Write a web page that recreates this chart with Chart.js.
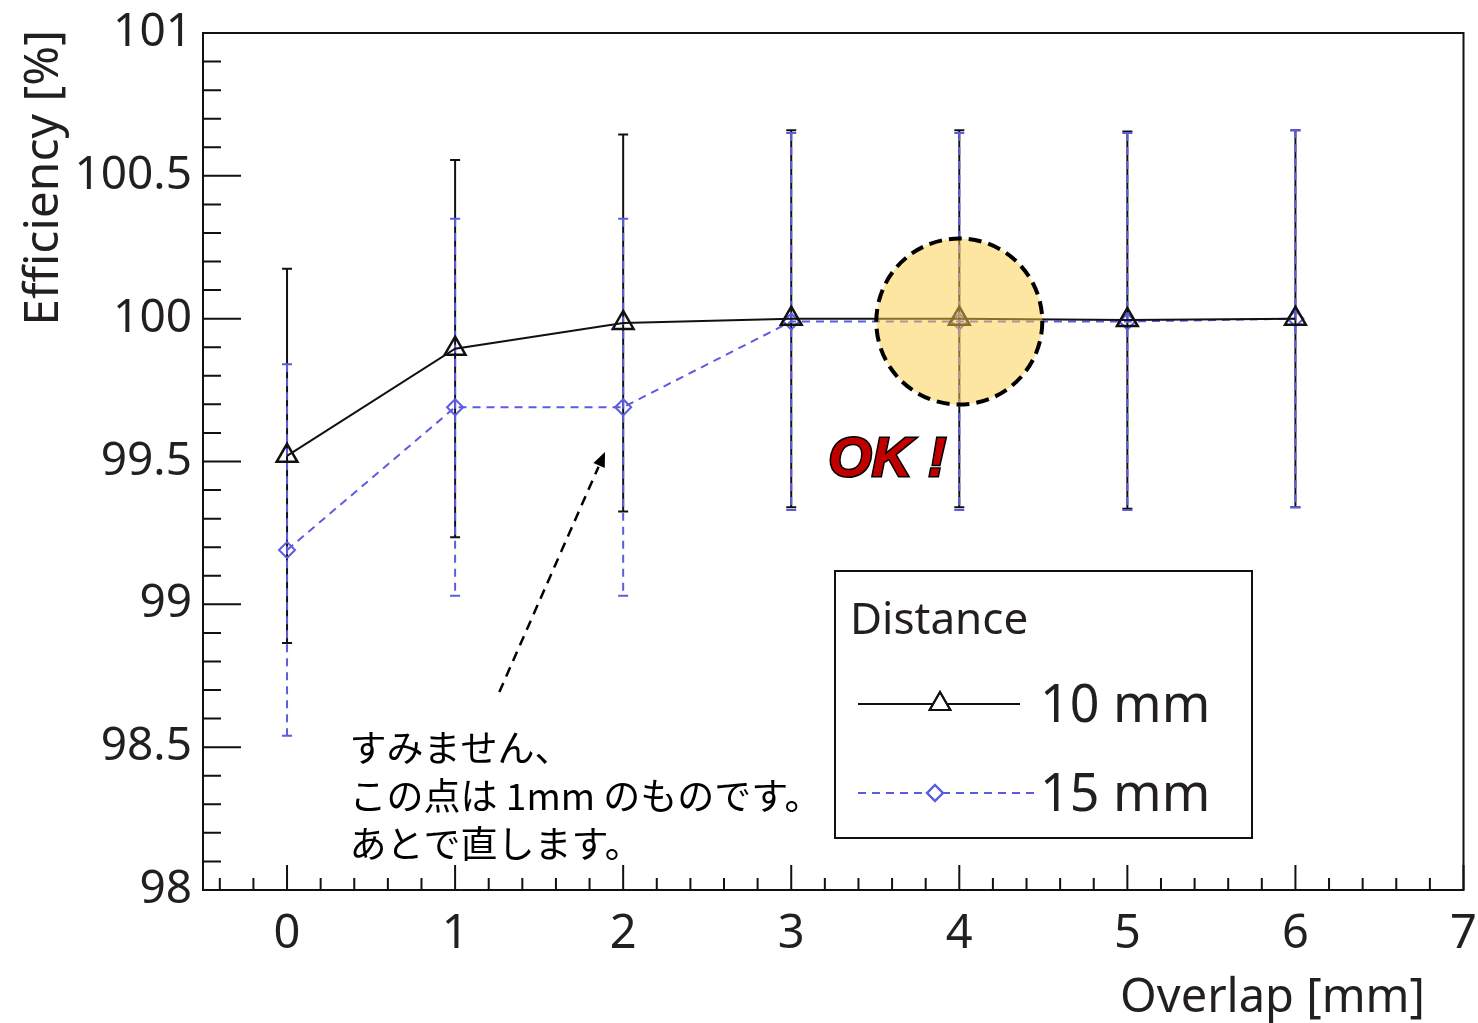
<!DOCTYPE html>
<html>
<head>
<meta charset="utf-8">
<script src="https://cdn.jsdelivr.net/npm/chart.js@4"></script>
<style>
  html, body { margin: 0; padding: 0; background: #fff; }
  #wrap { width: 1478px; height: 1023px; }
</style>
</head>
<body>
<div id="wrap"><canvas id="effChart" width="1478" height="1023"></canvas></div>
<script>
// --- data ---
const overlap = [0, 1, 2, 3, 4, 5, 6];
const eff10 = [99.52, 99.895, 99.985, 100.0, 100.0, 99.995, 100.0];
const err10 = [0.655, 0.66, 0.66, 0.66, 0.66, 0.66, 0.66];
const eff15 = [99.19, 99.69, 99.69, 99.99, 99.99, 99.99, 100.0];
const err15 = [0.65, 0.66, 0.66, 0.66, 0.66, 0.66, 0.66];
const xTicks = [0, 1, 2, 3, 4, 5, 6, 7];
const yTicks = [98, 98.5, 99, 99.5, 100, 100.5, 101];
const legendTitle = 'Distance';
const seriesNames = ['10 mm', '15 mm'];
const noteLines = ['すみません、', 'この点は 1mm のものです。', 'あとで直します。'];

const TEXT = '#231f20';
const BLUE = '#5c5ce0';
const FONT = '"Noto Sans", "Open Sans", sans-serif';

function toPoints(xs, ys) {
    return xs.map((x, i) => ({ x: x, y: ys[i] }));
}

// error bars, frame with ROOT style ticks, annotations and legend
const decor = {
    id: 'decor',
    beforeDatasetsDraw(chart) {
        const { ctx, scales: { x, y } } = chart;
        const bars = (vals, errs, color, dash) => {
            ctx.save();
            ctx.strokeStyle = color;
            ctx.lineWidth = 2;
            ctx.setLineDash(dash);
            overlap.forEach((ov, i) => {
                const px = x.getPixelForValue(ov);
                const top = y.getPixelForValue(vals[i] + errs[i]);
                const bot = y.getPixelForValue(vals[i] - errs[i]);
                ctx.beginPath();
                ctx.moveTo(px, top); ctx.lineTo(px, bot);
                ctx.stroke();
                ctx.setLineDash([]);
                ctx.beginPath();
                ctx.moveTo(px - 5, top); ctx.lineTo(px + 5, top);
                ctx.moveTo(px - 5, bot); ctx.lineTo(px + 5, bot);
                ctx.stroke();
                ctx.setLineDash(dash);
            });
            ctx.restore();
        };
        bars(eff10, err10, '#111', []);
        bars(eff15, err15, BLUE, [8, 6]);
    },
    afterDatasetsDraw(chart) {
        const { ctx, chartArea: a, scales: { x, y } } = chart;
        ctx.save();

        // frame
        ctx.strokeStyle = '#111';
        ctx.lineWidth = 2;
        ctx.strokeRect(a.left, a.top, a.right - a.left, a.bottom - a.top);

        // x ticks (major 1, minor 0.2)
        ctx.beginPath();
        for (let k = -2; k <= 35; k++) {
            const v = k / 5;
            if (v < x.min || v > x.max) continue;
            const px = x.getPixelForValue(v);
            const len = (k % 5 === 0) ? 25 : 12;
            ctx.moveTo(px, a.bottom); ctx.lineTo(px, a.bottom - len);
        }
        // y ticks (major 0.5, minor 0.1)
        for (let k = 0; k <= 30; k++) {
            const v = 98 + k / 10;
            const py = y.getPixelForValue(v);
            const len = (k % 5 === 0) ? 38 : 18;
            ctx.moveTo(a.left, py); ctx.lineTo(a.left + len, py);
        }
        ctx.stroke();

        // axis titles
        ctx.fillStyle = TEXT;
        ctx.font = '47px ' + FONT;
        ctx.textAlign = 'right';
        ctx.textBaseline = 'alphabetic';
        ctx.fillText('Overlap [mm]', 1425, 1012);
        ctx.save();
        ctx.translate(58, 30);
        ctx.rotate(-Math.PI / 2);
        ctx.font = '48px ' + FONT;
        ctx.fillText('Efficiency [%]', 0, 0);
        ctx.restore();

        // highlighted circle around overlap 4
        const cx = x.getPixelForValue(4), cy = y.getPixelForValue(99.99);
        ctx.beginPath();
        ctx.arc(cx, cy, 83, 0, Math.PI * 2);
        ctx.fillStyle = 'rgba(252, 205, 70, 0.5)';
        ctx.fill();
        ctx.setLineDash([13, 7]);
        ctx.lineWidth = 4;
        ctx.strokeStyle = '#000';
        ctx.stroke();
        ctx.setLineDash([]);

        // OK !
        ctx.font = 'bold italic 56px "Liberation Sans", sans-serif';
        ctx.textAlign = 'left';
        ctx.lineWidth = 3;
        ctx.strokeStyle = '#000';
        ctx.fillStyle = '#c00000';
        const okX = x.getPixelForValue(3.22), okY = y.getPixelForValue(99.45);
        ctx.strokeText('OK !', okX, okY);
        ctx.fillText('OK !', okX, okY);

        // dashed arrow
        const ax0 = x.getPixelForValue(1.263), ay0 = y.getPixelForValue(98.693);
        const ax1 = x.getPixelForValue(1.892), ay1 = y.getPixelForValue(99.533);
        const ang = Math.atan2(ay1 - ay0, ax1 - ax0);
        const hl = 16;
        ctx.beginPath();
        ctx.setLineDash([10, 7]);
        ctx.lineWidth = 2.5;
        ctx.moveTo(ax0, ay0);
        ctx.lineTo(ax1 - Math.cos(ang) * hl, ay1 - Math.sin(ang) * hl);
        ctx.stroke();
        ctx.setLineDash([]);
        ctx.beginPath();
        ctx.moveTo(ax1, ay1);
        ctx.lineTo(ax1 - Math.cos(ang - 0.4) * hl, ay1 - Math.sin(ang - 0.4) * hl);
        ctx.lineTo(ax1 - Math.cos(ang + 0.4) * hl, ay1 - Math.sin(ang + 0.4) * hl);
        ctx.closePath();
        ctx.fillStyle = '#000';
        ctx.fill();

        // note
        ctx.fillStyle = '#000';
        ctx.font = '37px "Noto Sans CJK JP", sans-serif';
        const nx = x.getPixelForValue(0.372), ny = y.getPixelForValue(98.448);
        noteLines.forEach((t, i) => ctx.fillText(t, nx, ny + i * 48));

        // legend box
        ctx.lineWidth = 2;
        ctx.strokeStyle = '#111';
        ctx.fillStyle = '#fff';
        ctx.fillRect(835, 571, 417, 267);
        ctx.strokeRect(835, 571, 417, 267);
        ctx.fillStyle = TEXT;
        ctx.font = '44px ' + FONT;
        ctx.fillText(legendTitle, 850, 634);
        const ds = chart.data.datasets;
        const rows = [{ y: 704, x1: 1020, mx: 940 }, { y: 793, x1: 1035, mx: 935 }];
        rows.forEach((r, i) => {
            const d = ds[i];
            ctx.beginPath();
            ctx.setLineDash(d.borderDash || []);
            ctx.strokeStyle = d.borderColor;
            ctx.lineWidth = 2;
            ctx.moveTo(858, r.y); ctx.lineTo(r.x1, r.y);
            ctx.stroke();
            ctx.setLineDash([]);
            ctx.fillStyle = '#fff';
            Chart.helpers.drawPoint(ctx, {
                pointStyle: d.pointStyle, radius: d.pointRadius,
                borderWidth: d.pointBorderWidth, rotation: 0
            }, r.mx, r.y);
            ctx.strokeStyle = d.borderColor;
            ctx.stroke();
            ctx.fillStyle = TEXT;
            ctx.font = '52px ' + FONT;
            ctx.fillText(seriesNames[i], 1040, r.y + 18);
        });

        ctx.restore();
    }
};

new Chart(document.getElementById('effChart'), {
    type: 'line',
    data: {
        datasets: [{
            label: seriesNames[0],
            data: toPoints(overlap, eff10),
            borderColor: '#111',
            borderWidth: 2,
            pointStyle: 'triangle',
            pointRadius: 12,
            pointBorderWidth: 2.5,
            pointBackgroundColor: 'rgba(0,0,0,0)',
            pointBorderColor: '#111',
            tension: 0
        }, {
            label: seriesNames[1],
            data: toPoints(overlap, eff15),
            borderColor: BLUE,
            borderWidth: 2,
            borderDash: [8, 6],
            pointStyle: 'rectRot',
            pointRadius: 8,
            pointBorderWidth: 2,
            pointBackgroundColor: 'rgba(0,0,0,0)',
            pointBorderColor: BLUE,
            tension: 0
        }]
    },
    options: {
        responsive: false,
        animation: false,
        layout: { padding: { top: 33, right: 8, left: 0, bottom: 0 } },
        plugins: { legend: { display: false }, tooltip: { enabled: false } },
        scales: {
            x: {
                type: 'linear',
                min: -0.5,
                max: 7,
                afterBuildTicks: s => { s.ticks = xTicks.map(v => ({ value: v })); },
                afterFit: s => { s.height = 133; s.paddingLeft = 0; s.paddingRight = 0; },
                grid: { display: false, drawTicks: false },
                border: { display: false },
                ticks: { color: TEXT, font: { family: FONT, size: 47 }, padding: 16, maxRotation: 0, autoSkip: false }
            },
            y: {
                min: 98,
                max: 101,
                afterBuildTicks: s => { s.ticks = yTicks.map(v => ({ value: v })); },
                afterFit: s => { s.width = 203; s.paddingTop = 0; s.paddingBottom = 0; },
                grid: { display: false, drawTicks: false },
                border: { display: false },
                ticks: { color: TEXT, font: { family: FONT, size: 46 }, padding: 11, callback: v => String(v) }
            }
        }
    },
    plugins: [decor]
});
</script>
</body>
</html>
